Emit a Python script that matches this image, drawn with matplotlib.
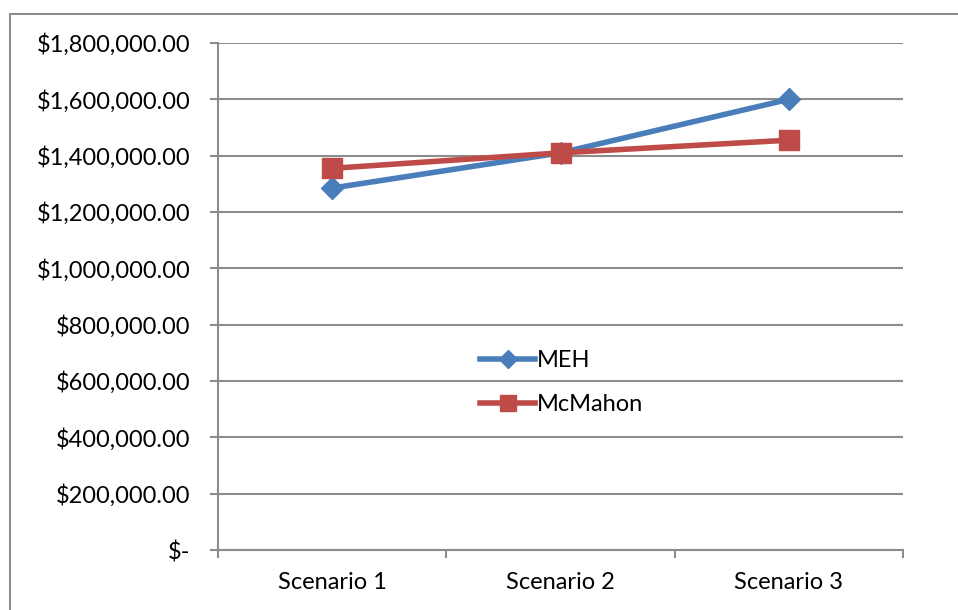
import matplotlib.pyplot as plt
from matplotlib.patches import Rectangle
from matplotlib.ticker import FuncFormatter, MultipleLocator
import numpy as np

scenarios = ['Scenario 1', 'Scenario 2', 'Scenario 3']
meh = [1285000, 1410000, 1600000]
mcmahon = [1355000, 1410000, 1455000]

GRID = '#8c8c8c'
BLUE = '#4a7ebb'
RED = '#be4b48'

plt.rcParams['font.family'] = ['Lato', 'DejaVu Sans']

fig = plt.figure(figsize=(9.58, 6.10), dpi=100)
ax = fig.add_axes([218/958, 60/610, 685/958, 507/610])

x = np.arange(len(scenarios)) + 0.5
ax.plot(x, meh, color=BLUE, lw=4, marker='D', ms=11, label='MEH', zorder=3)
ax.plot(x, mcmahon, color=RED, lw=4, marker='s', ms=14, label='McMahon', zorder=4)

ax.set_xlim(0, 3)
ax.set_ylim(0, 1800000)
ax.yaxis.set_major_locator(MultipleLocator(200000))

def money(v, pos):
    if v == 0:
        return '$-'
    return '${:,.2f}'.format(v)

ax.yaxis.set_major_formatter(FuncFormatter(money))
ax.set_xticks([0, 1, 2, 3])
ax.set_xticklabels([])
ax.set_xticks(x, minor=True)
ax.set_xticklabels(scenarios, minor=True)
ax.tick_params(axis='x', which='minor', length=0, pad=16, labelsize=17)
ax.tick_params(axis='x', which='major', length=6, width=1.5, color=GRID, direction='out')
ax.tick_params(axis='y', length=6, width=1.5, color=GRID, labelsize=17, pad=14)

ax.grid(axis='y', color=GRID, lw=1.5)
ax.set_axisbelow(True)
for side in ['top', 'right']:
    ax.spines[side].set_visible(False)
for side in ['left', 'bottom']:
    ax.spines[side].set_color(GRID)
    ax.spines[side].set_linewidth(1.5)

ax.legend(loc='center left', bbox_to_anchor=(0.352, 0.33), frameon=False,
          fontsize=17, handlelength=2.3, handletextpad=0.1, labelspacing=0.95,
          markerscale=0.8)

# outer chart border
fig.patches.append(Rectangle((10/958, -0.1), 1.2, (610-14)/610 + 0.1,
                             transform=fig.transFigure, fill=False,
                             ec=GRID, lw=1.5))

fig.savefig('out.png', dpi=100)
